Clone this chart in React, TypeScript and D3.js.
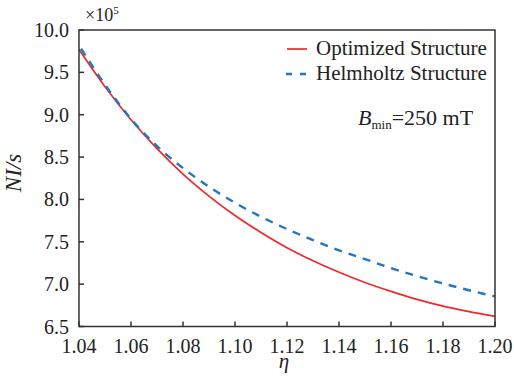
import React from "react";
import * as d3 from "d3";

const etaValues = [1.04, 1.05, 1.06, 1.07, 1.08, 1.09, 1.10, 1.11, 1.12, 1.13, 1.14, 1.15, 1.16, 1.17, 1.18, 1.19, 1.20];
const optimized = [9.77, 9.33, 8.94, 8.60, 8.30, 8.04, 7.81, 7.61, 7.43, 7.275, 7.14, 7.02, 6.915, 6.82, 6.74, 6.675, 6.62];
const helmholtzEta = [1.0408, 1.05, 1.06, 1.07, 1.08, 1.09, 1.10, 1.11, 1.12, 1.13, 1.14, 1.15, 1.16, 1.17, 1.18, 1.19, 1.20];
const helmholtz = [9.78, 9.355, 8.95, 8.63, 8.37, 8.15, 7.96, 7.795, 7.65, 7.52, 7.40, 7.295, 7.19, 7.095, 7.008, 6.928, 6.855];
const xTicks = [1.04, 1.06, 1.08, 1.10, 1.12, 1.14, 1.16, 1.18, 1.20];
const yTicks = [6.5, 7.0, 7.5, 8.0, 8.5, 9.0, 9.5, 10.0];
const seriesNames = ["Optimized Structure", "Helmholtz Structure"];

const W = 514, H = 380;
const left = 79, right = 495, top = 30, bottom = 326.5;
const FONT = "'Liberation Serif', 'DejaVu Serif', serif";
const RED = "#ee2a2a";
const BLUE = "#2277c0";
const AXIS = "#333";

export default function App() {
  const x = d3.scaleLinear().domain([1.04, 1.2]).range([left, right]);
  const y = d3.scaleLinear().domain([6.5, 10.0]).range([bottom, top]);
  const line = d3.line<[number, number]>().x(d => x(d[0])).y(d => y(d[1])).curve(d3.curveMonotoneX);
  const redPath = line(etaValues.map((e, i) => [e, optimized[i]]) as [number, number][]) || "";
  const bluePath = line(helmholtzEta.map((e, i) => [e, helmholtz[i]]) as [number, number][]) || "";
  const ts: React.CSSProperties = { fontFamily: FONT };

  return (
    <svg width={W} height={H} style={{ position: "absolute", left: 0, top: 0, background: "#fff", fontFamily: FONT }}>
      <rect x={0} y={0} width={W} height={H} fill="#fff" />
      <path d={redPath} fill="none" stroke={RED} strokeWidth={1.7} />
      <path d={bluePath} fill="none" stroke={BLUE} strokeWidth={2.4} strokeDasharray="8,7" />
      <rect x={left} y={top} width={right - left} height={bottom - top} fill="none" stroke={AXIS} strokeWidth={1.5} />
      {xTicks.map(t => (
        <g key={"x" + t}>
          <line x1={x(t)} x2={x(t)} y1={bottom} y2={bottom - 5} stroke={AXIS} strokeWidth={1.5} />
          <text x={x(t)} y={353} textAnchor="middle" fontSize={20} fill="#222" style={ts}>{t.toFixed(2)}</text>
        </g>
      ))}
      {yTicks.map(t => (
        <g key={"y" + t}>
          <line x1={left} x2={left + 5} y1={y(t)} y2={y(t)} stroke={AXIS} strokeWidth={1.5} />
          <text x={69} y={y(t) + 7} textAnchor="end" fontSize={20} fill="#222" style={ts}>{t.toFixed(1)}</text>
        </g>
      ))}
      <text x={85} y={21} fontSize={18} fill="#222" style={ts}>×10<tspan fontSize={11} dy={-7}>5</tspan></text>
      <text x={284} y={368} textAnchor="middle" fontSize={21} fontStyle="italic" fill="#222" style={ts}>η</text>
      <text transform={`translate(21,173) rotate(-90)`} textAnchor="middle" fontSize={23} fontStyle="italic" fill="#222" style={ts}>NI/s</text>
      <line x1={287} x2={307} y1={49} y2={49} stroke={RED} strokeWidth={1.7} />
      <text x={316} y={55} fontSize={21} fill="#222" style={ts}>{seriesNames[0]}</text>
      <line x1={286} x2={307} y1={74} y2={74} stroke={BLUE} strokeWidth={2.4} strokeDasharray="6,8" />
      <text x={316} y={80} fontSize={21} fill="#222" style={ts}>{seriesNames[1]}</text>
      <text x={358} y={125} fontSize={22} fill="#222" style={ts}>
        <tspan fontStyle="italic">B</tspan>
        <tspan fontSize={13} dy={4}>min</tspan>
        <tspan dy={-4}>=250 mT</tspan>
      </text>
    </svg>
  );
}
